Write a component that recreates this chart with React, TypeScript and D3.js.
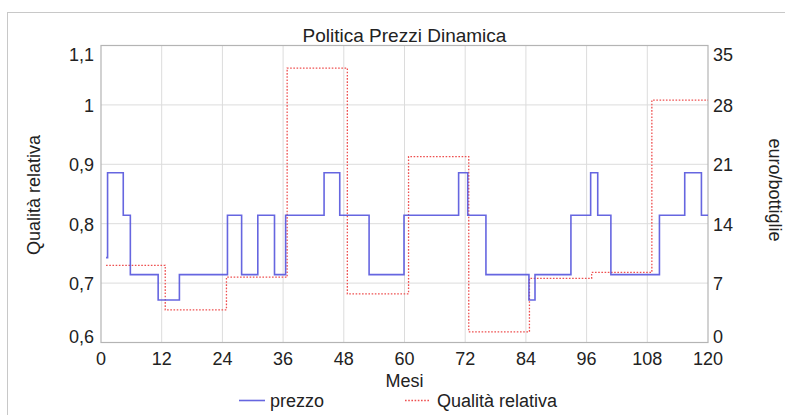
import * as d3 from "d3";

// prezzo (euro/bottiglie, right axis): month where each level begins
const prezzoMesi = [1, 1.3, 4.4, 5.8, 11.3, 15.5, 25, 27.8, 31, 34.3, 36.5, 44.1, 47.2, 53, 59.9, 70.7, 72.5, 76.1, 84.6, 85.8, 92.9, 96.8, 98.2, 100.8, 110.4, 115.4, 118.7, 120];
const prezzoValori = [10, 20, 15, 8, 5, 8, 15, 8, 15, 8, 15, 20, 15, 8, 15, 20, 15, 8, 5, 8, 15, 20, 15, 8, 15, 20, 15, 15];

// Qualità relativa (left axis)
const qualitaMesi = [1, 12.7, 24.8, 36.8, 48.7, 60.8, 72.7, 84.7, 97, 108.9, 120];
const qualitaValori = [0.73, 0.655, 0.71, 1.062, 0.682, 0.913, 0.618, 0.708, 0.718, 1.008, 1.008];

const xTicks = [0, 12, 24, 36, 48, 60, 72, 84, 96, 108, 120];
const leftTicks = [0.6, 0.7, 0.8, 0.9, 1.0, 1.1];
const rightTicks = [0, 7, 14, 21, 28, 35];

const W = 785;
const H = 415;
const m = { left: 101, right: 708, top: 45.5, bottom: 342.5 };
const font = "'Liberation Sans', Arial, Helvetica, sans-serif";

const fmtLeft = (v: number) => d3.format("~g")(+v.toFixed(1)).replace(".", ",");

export default function App() {
  const x = d3.scaleLinear().domain([0, 120]).range([m.left, m.right]);
  const yL = d3.scaleLinear().domain([0.6, 1.1]).range([m.bottom, m.top]);
  const yR = d3.scaleLinear().domain([0, 35]).range([m.bottom, m.top]);

  const prezzo = prezzoMesi.map((t, i) => [t, prezzoValori[i]] as [number, number]);
  const qualita = qualitaMesi.map((t, i) => [t, qualitaValori[i]] as [number, number]);

  const linePrezzo = d3
    .line<[number, number]>()
    .x((d) => x(d[0]))
    .y((d) => yR(d[1]))
    .curve(d3.curveStepAfter);
  const lineQualita = d3
    .line<[number, number]>()
    .x((d) => x(d[0]))
    .y((d) => yL(d[1]))
    .curve(d3.curveStepAfter);

  // end labels are pulled inside the plot range
  const labelShift = (i: number, n: number) => (i === 0 ? -6 : i === n - 1 ? 9 : 1);

  const cx = (m.left + m.right) / 2;

  return (
    <svg
      width={W}
      height={H}
      style={{ position: "absolute", left: 0, top: 0, display: "block", background: "#fff" }}
      fontFamily={font}
    >
      <rect x={7.5} y={12.5} width={800} height={420} fill="none" stroke="#c8c8c8" />

      <text x={cx} y={42} textAnchor="middle" fontSize={19} fill="#222">
        Politica Prezzi Dinamica
      </text>

      {/* grid */}
      <g stroke="#dcdcdc" strokeWidth={1}>
        {xTicks.slice(1, -1).map((t) => (
          <line key={t} x1={x(t)} x2={x(t)} y1={m.top} y2={m.bottom} />
        ))}
        {leftTicks.slice(1, -1).map((t) => (
          <line key={t} x1={m.left} x2={m.right} y1={yL(t)} y2={yL(t)} />
        ))}
      </g>
      <rect
        x={m.left}
        y={m.top}
        width={m.right - m.left}
        height={m.bottom - m.top}
        fill="none"
        stroke="#b4b4b4"
        strokeWidth={1.2}
      />

      {/* series */}
      <path d={lineQualita(qualita) || ""} fill="none" stroke="#ee5050" strokeWidth={1.3} strokeDasharray="1.6,1.6" />
      <path d={linePrezzo(prezzo) || ""} fill="none" stroke="#5555dd" strokeWidth={1.6} strokeOpacity={0.9} />

      {/* left ticks */}
      <g fontSize={18} fill="#222" textAnchor="end">
        {leftTicks.map((t, i) => (
          <text key={t} x={94} y={yL(t) + labelShift(i, leftTicks.length)} dominantBaseline="central">
            {fmtLeft(t)}
          </text>
        ))}
      </g>
      {/* right ticks */}
      <g fontSize={18} fill="#222" textAnchor="start">
        {rightTicks.map((t, i) => (
          <text key={t} x={713} y={yR(t) + labelShift(i, rightTicks.length)} dominantBaseline="central">
            {t}
          </text>
        ))}
      </g>
      {/* x ticks */}
      <g fontSize={18} fill="#222" textAnchor="middle">
        {xTicks.map((t) => (
          <text key={t} x={x(t)} y={365}>
            {t}
          </text>
        ))}
      </g>

      <text x={cx} y={387} textAnchor="middle" fontSize={18} fill="#222">
        Mesi
      </text>

      <text
        transform={`translate(34,195) rotate(-90)`}
        textAnchor="middle"
        dominantBaseline="central"
        fontSize={18}
        fill="#222"
      >
        Qualità relativa
      </text>
      <text
        transform={`translate(775,190) rotate(90)`}
        textAnchor="middle"
        dominantBaseline="central"
        fontSize={18}
        fill="#222"
      >
        euro/bottiglie
      </text>

      {/* legend */}
      <line x1={239} x2={265} y1={400.5} y2={400.5} stroke="#5555dd" strokeWidth={1.6} strokeOpacity={0.9} />
      <text x={270} y={407} fontSize={18} fill="#222">
        prezzo
      </text>
      <line x1={405} x2={429} y1={400.5} y2={400.5} stroke="#ee5050" strokeWidth={1.3} strokeDasharray="1.6,1.6" />
      <text x={437} y={407} fontSize={18} fill="#222">
        Qualità relativa
      </text>
    </svg>
  );
}
